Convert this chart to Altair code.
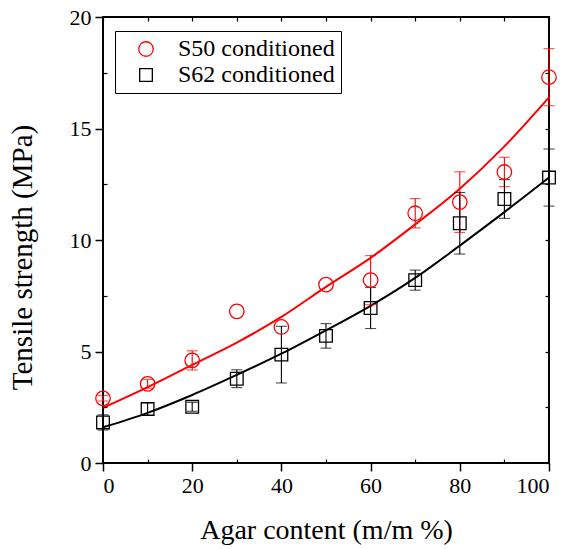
import altair as alt
import pandas as pd

agar = [0, 10, 20, 30, 40, 50, 60, 70, 80, 90, 100]
s50_mean = [2.9, 3.55, 4.6, 6.8, 6.1, 8.0, 8.2, 11.2, 11.7, 13.05, 17.3]
s50_err = [0.12, 0.2, 0.43, 0.0, 0.0, 0.0, 1.1, 0.66, 1.36, 0.66, 1.28]
s62_mean = [1.82, 2.42, 2.52, 3.78, 4.86, 5.7, 6.95, 8.2, 10.75, 11.84, 12.8]
s62_err = [0.34, 0.27, 0.2, 0.4, 1.27, 0.55, 0.92, 0.45, 1.38, 0.87, 1.28]
s50_fit = [2.47, 3.4, 4.4, 5.4, 6.55, 7.9, 9.2, 10.7, 12.3, 14.2, 16.4]
s62_fit = [1.6, 2.25, 3.05, 3.95, 4.9, 5.95, 7.05, 8.3, 9.75, 11.25, 12.8]
series = ["S50 conditioned", "S62 conditioned"]
colors = ["#ff0000", "#000000"]
x_major = [0, 20, 40, 60, 80, 100]
x_minor = [10, 30, 50, 70, 90]
x_all = [0, 10, 20, 30, 40, 50, 60, 70, 80, 90, 100]
y_major = [0, 5, 10, 15, 20]
y_minor = [2.5, 7.5, 12.5, 17.5]
y_all = [0, 2.5, 5, 7.5, 10, 12.5, 15, 17.5, 20]

FONT = "Liberation Serif"

rows = []
for s, means, errs in [(series[0], s50_mean, s50_err), (series[1], s62_mean, s62_err)]:
    for a, m, e in zip(agar, means, errs):
        rows.append({"agar": a, "ts": m, "err": e, "lo": m - e, "hi": m + e, "series": s})
pts = pd.DataFrame(rows)

caps = pd.concat([
    pts[["agar", "lo", "err", "series"]].rename(columns={"lo": "v"}),
    pts[["agar", "hi", "err", "series"]].rename(columns={"hi": "v"}),
])

fit = pd.DataFrame(
    [{"agar": a, "fit": v, "series": series[0]} for a, v in zip(agar, s50_fit)]
    + [{"agar": a, "fit": v, "series": series[1]} for a, v in zip(agar, s62_fit)]
)

xs = alt.Scale(domain=[0, 100], nice=False)
ys = alt.Scale(domain=[0, 20], nice=False)

ax_x_major = alt.Axis(orient="bottom", values=x_major, tickSize=8, tickWidth=1.5,
                      tickColor="black", domain=False, grid=False, labelFont=FONT,
                      labelFontSize=22, labelColor="black", labelPadding=4,
                      title="Agar content (m/m %)", titleFont=FONT, titleFontSize=28,
                      titleFontWeight="normal", titleColor="black", titlePadding=20)
ax_y_major = alt.Axis(orient="left", values=y_major, tickSize=8, tickWidth=1.5,
                      tickColor="black", domain=False, grid=False, labelFont=FONT,
                      labelFontSize=22, labelColor="black", labelPadding=4,
                      title="Tensile strength (MPa)", titleFont=FONT, titleFontSize=29,
                      titleFontWeight="normal", titleColor="black", titlePadding=32,
                      titleY=240)
ax_x_minor = alt.Axis(orient="bottom", values=x_minor, tickSize=4, tickWidth=1.2,
                      offset=-4, tickColor="black", domain=False, grid=False,
                      labels=False, title=None, zindex=2)
ax_y_minor = alt.Axis(orient="left", values=y_minor, tickSize=4, tickWidth=1.2,
                      offset=-4, tickColor="black", domain=False, grid=False,
                      labels=False, title=None, zindex=2)
ax_x_top = alt.Axis(orient="top", values=x_all, tickSize=4, tickWidth=1.2,
                    offset=-4, tickColor="black", domain=False, grid=False,
                    labels=False, title=None, zindex=2)
ax_y_right = alt.Axis(orient="right", values=y_all, tickSize=4, tickWidth=1.2,
                      offset=-4, tickColor="black", domain=False, grid=False,
                      labels=False, title=None, zindex=2)

layers = []
for i, (s, c) in enumerate(zip(series, colors)):
    layers.append(
        alt.Chart(fit).transform_filter(alt.datum.series == s)
        .mark_line(interpolate="monotone", strokeWidth=2, color=c).encode(
            x=alt.X("agar:Q", scale=xs, axis=ax_x_major if i == 0 else None),
            y=alt.Y("fit:Q", scale=ys, axis=ax_y_major if i == 0 else None),
        )
    )
for i, (s, c) in enumerate(zip(series, colors)):
    layers.append(
        alt.Chart(pts).transform_filter((alt.datum.series == s) & (alt.datum.err > 0))
        .mark_rule(strokeWidth=1.1, color=c).encode(
            x=alt.X("agar:Q", scale=xs, axis=ax_x_minor if i == 0 else None),
            y=alt.Y("lo:Q", scale=ys, axis=ax_y_minor if i == 0 else None),
            y2="hi:Q",
        )
    )
for i, (s, c) in enumerate(zip(series, colors)):
    layers.append(
        alt.Chart(caps).transform_filter((alt.datum.series == s) & (alt.datum.err > 0))
        .mark_tick(orient="horizontal", size=11, thickness=1.1, color=c).encode(
            x=alt.X("agar:Q", scale=xs, axis=ax_x_top if i == 0 else None),
            y=alt.Y("v:Q", scale=ys, axis=ax_y_right if i == 0 else None),
        )
    )

legend = alt.Legend(title=None, orient="none", legendX=12, legendY=14,
                    strokeColor="black", padding=6, fillColor="white",
                    labelFont=FONT, labelFontSize=24, labelColor="black",
                    labelOffset=20, symbolOffset=13, rowPadding=2,
                    symbolSize=190, symbolStrokeWidth=1.3, labelLimit=300)

points = alt.Chart(pts).mark_point(filled=False, strokeWidth=1.3, opacity=1).encode(
    x=alt.X("agar:Q", scale=xs, axis=None),
    y=alt.Y("ts:Q", scale=ys, axis=None),
    color=alt.Color("series:N", scale=alt.Scale(domain=series, range=colors), legend=legend),
    shape=alt.Shape("series:N", scale=alt.Scale(domain=series, range=["circle", "square"]),
                    legend=legend),
    size=alt.Size("series:N", scale=alt.Scale(domain=series, range=[210, 160]), legend=None),
)
layers.append(points)

chart = alt.layer(*layers).resolve_axis(
    x="independent", y="independent"
).properties(
    width=446, height=446,
    autosize=alt.AutoSizeParams(type="none"),
    padding={"left": 103, "top": 17, "right": 19, "bottom": 86},
).configure(background="white", font=FONT).configure_view(
    stroke="black", strokeWidth=2
).configure_axis(labelFont=FONT, titleFont=FONT).configure_legend(labelFont=FONT)

chart.save("out.html", embed_options={"renderer": "svg", "actions": False})
